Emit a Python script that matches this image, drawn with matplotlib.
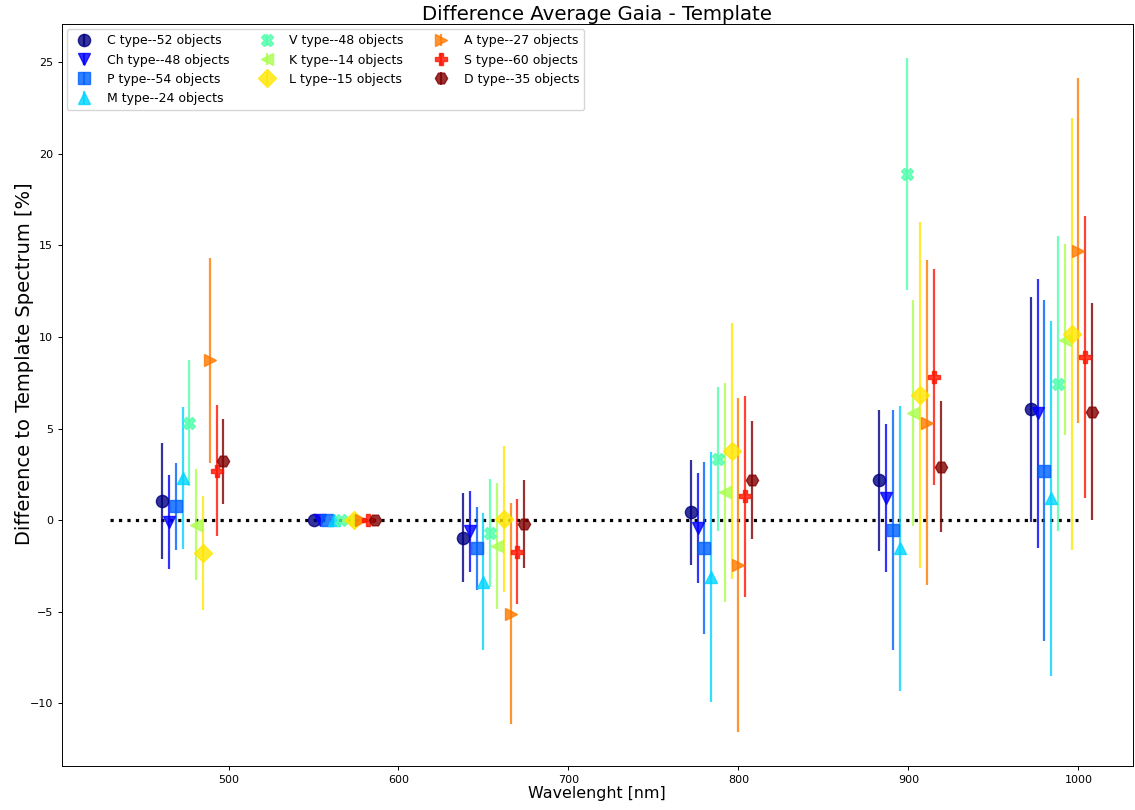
import numpy as np
import matplotlib
matplotlib.use("Agg")
import matplotlib.pyplot as plt

# Wavelength of each group (position of first type), nm
wavelengths = [461, 550, 638, 772, 883, 972]
offset_step = 4  # nm shift between types inside a group

types = ["C", "Ch", "P", "M", "V", "K", "L", "A", "S", "D"]
counts = [52, 48, 54, 24, 48, 14, 15, 27, 60, 35]
markers = ["o", "v", "s", "^", "X", "<", "D", ">", "P", "H"]

# mean difference [%] per type, one value per wavelength group
diff_C = [1.05, 0.0, -0.96, 0.43, 2.18, 6.05]
diff_Ch = [-0.1, 0.0, -0.6, -0.42, 1.2, 5.85]
diff_P = [0.75, 0.0, -1.53, -1.52, -0.52, 2.7]
diff_M = [2.32, 0.0, -3.35, -3.1, -1.54, 1.2]
diff_V = [5.3, 0.0, -0.69, 3.35, 18.9, 7.44]
diff_K = [-0.25, 0.0, -1.4, 1.52, 5.87, 9.85]
diff_L = [-1.8, 0.0, 0.07, 3.77, 6.85, 10.17]
diff_A = [8.72, 0.0, -5.1, -2.44, 5.33, 14.72]
diff_S = [2.7, 0.0, -1.72, 1.3, 7.82, 8.92]
diff_D = [3.23, 0.0, -0.2, 2.2, 2.93, 5.93]

# standard deviation [%]
err_C = [3.17, 0.0, 2.42, 2.88, 3.86, 6.14]
err_Ch = [2.55, 0.0, 2.2, 3.0, 4.03, 7.34]
err_P = [2.35, 0.0, 2.26, 4.7, 6.55, 9.3]
err_M = [3.87, 0.0, 3.74, 6.83, 7.77, 9.69]
err_V = [3.44, 0.0, 2.96, 3.93, 6.35, 8.05]
err_K = [3.02, 0.0, 3.45, 5.98, 6.17, 5.21]
err_L = [3.1, 0.0, 3.97, 7.0, 9.45, 11.8]
err_A = [5.62, 0.0, 6.02, 9.12, 8.89, 9.4]
err_S = [3.57, 0.0, 2.86, 5.48, 5.92, 7.7]
err_D = [2.32, 0.0, 2.42, 3.22, 3.6, 5.93]

diffs = [diff_C, diff_Ch, diff_P, diff_M, diff_V, diff_K, diff_L, diff_A, diff_S, diff_D]
errs = [err_C, err_Ch, err_P, err_M, err_V, err_K, err_L, err_A, err_S, err_D]

colors = plt.cm.jet(np.linspace(0, 1, len(types)))

fig = plt.figure(figsize=(11.35, 8.1), dpi=100)
ax = fig.add_axes([0.0546, 0.054, 0.9434, 0.916])

# zero reference line
ax.plot([430, 1000], [0, 0], ":", color="black", lw=2.3)

for i, t in enumerate(types):
    x = np.array(wavelengths) + i * offset_step
    ax.errorbar(x, diffs[i], yerr=errs[i], fmt=markers[i], color=colors[i],
                ms=8.8, elinewidth=1.6, alpha=0.8,
                label="{} type--{} objects".format(t, counts[i]))

ax.set_xlim(402, 1032)
ax.set_ylim(-13.43, 27.07)
ax.set_title("Difference Average Gaia - Template", fontsize=14.2, pad=3)
ax.set_xlabel("Wavelenght [nm]", fontsize=11.4, labelpad=1)
ax.set_ylabel("Difference to Template Spectrum [%]", fontsize=14)
ax.yaxis.set_label_coords(-0.026, 0.543)
ax.tick_params(labelsize=8, length=2.8, width=0.7)
for s in ax.spines.values():
    s.set_linewidth(0.7)
ax.legend(loc="upper left", ncol=3, fontsize=9, borderaxespad=0.4)

plt.savefig("out.png", dpi=100)
